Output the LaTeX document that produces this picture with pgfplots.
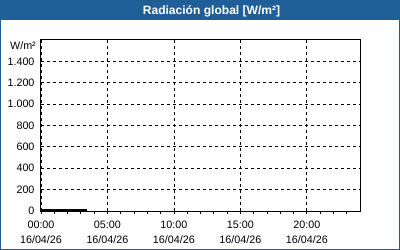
\documentclass[border=0pt]{standalone}
\usepackage{pgfplots}
\pgfplotsset{compat=1.18}
\usepackage{fontspec}
\setmainfont{Liberation Sans}
\definecolor{hdr}{RGB}{31,94,150}
\begin{document}
\begin{tikzpicture}[x=1bp,y=1bp]
\useasboundingbox (0,0) rectangle (400,250);
\fill[white] (0,0) rectangle (400,250);
\fill[hdr] (0,230) rectangle (400,250);
\draw[hdr, line width=1.2bp] (0.6,0.6) rectangle (399.4,249.4);
\node[white, anchor=base, inner sep=0pt, font=\fontsize{12.1}{14}\selectfont\bfseries] at (211.5,236) {Radiación global [W/m²]};
\node[anchor=east, inner sep=0pt, font=\fontsize{10.8}{12.5}\selectfont] at (36,204) {W/m²};
\begin{axis}[
  at={(41bp,39bp)}, anchor=south west,
  scale only axis, width=319bp, height=171bp,
  xmin=0, xmax=24, ymin=0, ymax=1600,
  xtick={0,5,10,15,20},
  xticklabels={{00:00\\16/04/26},{05:00\\16/04/26},{10:00\\16/04/26},{15:00\\16/04/26},{20:00\\16/04/26}},
  minor xtick={1,2,3,4,6,7,8,9,11,12,13,14,16,17,18,19,21,22,23},
  ytick={0,200,400,600,800,1000,1200,1400},
  /pgf/number format/.cd, 1000 sep={.}, assume math mode=true, /pgfplots/.cd,
  xtick pos=bottom, ytick pos=left,
  tick align=outside,
  major tick length=3bp, minor tick length=3bp,
  y tick style={draw=none},
  tick style={black, line width=0.8bp},
  grid=major,
  major grid style={black, line width=0.8bp, dash pattern=on 3bp off 3bp},
  axis line style={black, line width=1bp},
  tick label style={font=\fontsize{10.8}{12.5}\selectfont},
  x tick label style={align=center, font=\fontsize{10.8}{15}\selectfont, yshift=-3.5bp},
]
\addplot[black, line width=2bp] coordinates {(0,6) (0.5,6) (1,6) (1.5,6) (2,6) (2.5,6) (3,6) (3.45,6)};
\end{axis}
\end{tikzpicture}
\end{document}
